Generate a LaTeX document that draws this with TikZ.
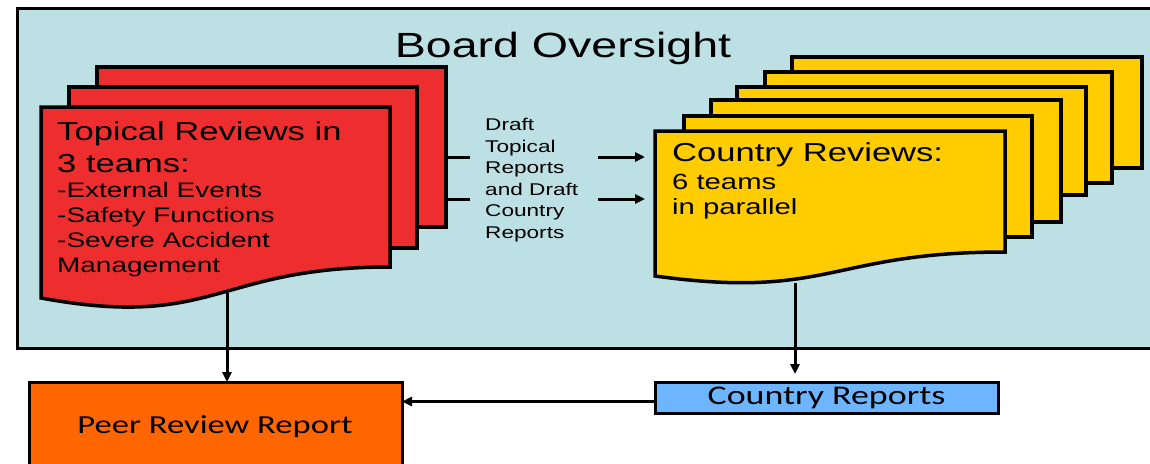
\documentclass[tikz,border=0pt]{standalone}
\usepackage{fontspec}
\setmainfont{Liberation Sans}[FakeStretch=1.33]
\newfontfamily\calfont{Carlito}[FakeStretch=1.33]
\usetikzlibrary{arrows.meta}
\definecolor{bgblue}{RGB}{189,224,228}
\definecolor{sheetred}{RGB}{238,46,46}
\definecolor{sheetyellow}{RGB}{255,204,0}
\definecolor{peerorange}{RGB}{255,102,0}
\definecolor{crblue}{RGB}{110,181,255}
\begin{document}
\begin{tikzpicture}[x=1pt,y=-1pt,
  sheet/.style={draw=black,line width=3.5pt,line join=miter,inner sep=0pt,outer sep=0pt,anchor=north west},
  redsheet/.style={sheet,fill=sheetred},
  ylwsheet/.style={sheet,fill=sheetyellow},
  conn/.style={draw=black,line width=3pt},
  arr/.style={conn,-{Triangle[length=10pt,width=9pt]}},
  big/.style={font=\fontsize{26}{32}\selectfont,align=left,inner sep=0pt,anchor=north west},
  small/.style={font=\fontsize{21}{25}\selectfont,align=left,inner sep=0pt,anchor=north west},
  box/.style={draw=black,line width=3pt,inner sep=0pt,outer sep=0pt}]
\clip (0,0) rectangle (1150,463);
% background
\draw[fill=bgblue,line width=3pt] (17,8) rectangle (1175,348);
\node[font=\fontsize{35}{40}\selectfont,anchor=base,inner sep=0pt] (title) at (563,57) {Board Oversight};
% red stack
\node[redsheet,minimum width=349pt,minimum height=160pt] (rback) at (97,67) {};
\node[redsheet,minimum width=348pt,minimum height=161pt] (rmid) at (69,87) {};
\draw[sheet,fill=sheetred] (41,107) -- (390,107) -- (390,267)
  .. controls (215,267) and (215,330) .. (41,298) -- cycle;
\node[big] (rtitle) at (57,121) {Topical Reviews in\\3 teams:};
\node[small] (rlist) at (57,182) {-External Events\\-Safety Functions\\-Severe Accident\\Management};
% yellow stack
\node[ylwsheet,minimum width=350pt,minimum height=111pt] (y6) at (792,57) {};
\node[ylwsheet,minimum width=347pt,minimum height=111pt] (y5) at (765,72) {};
\node[ylwsheet,minimum width=349pt,minimum height=108pt] (y4) at (737,87) {};
\node[ylwsheet,minimum width=350pt,minimum height=122pt] (y3) at (711,100) {};
\node[ylwsheet,minimum width=348pt,minimum height=121pt] (y2) at (684,116) {};
\draw[sheet,fill=sheetyellow] (655,131) -- (1005,131) -- (1005,252)
  .. controls (830,252) and (830,300) .. (655,276) -- cycle;
\node[big] (ytitle) at (672,142) {Country Reviews:};
\node[font=\fontsize{22}{25}\selectfont,align=left,inner sep=0pt,anchor=north west] (ylist) at (672,174) {6 teams\\in parallel};
% middle text and arrows
\node[font=\fontsize{17}{21.5}\selectfont,align=left,inner sep=0pt,anchor=north west] (draft) at (485,118)
  {Draft\\Topical\\Reports\\and Draft\\Country\\Reports};
\coordinate (l1a) at (446,157);
\coordinate (l1b) at (470,157);
\coordinate (l2a) at (446,199);
\coordinate (l2b) at (470,199);
\coordinate (a1a) at (598,157);
\coordinate (a1b) at (645,157);
\coordinate (a2a) at (598,199);
\coordinate (a2b) at (645,199);
\draw[conn] (l1a) -- (l1b);
\draw[conn] (l2a) -- (l2b);
\draw[arr] (a1a) -- (a1b);
\draw[arr] (a2a) -- (a2b);
% bottom boxes
\node[box,fill=peerorange,minimum width=373pt,minimum height=110pt,anchor=north west] (peer) at (29,382) {};
\node[font=\calfont\fontsize{26}{30}\selectfont,anchor=base,inner sep=0pt] (peertext) at (215,433) {Peer Review Report};
\node[box,fill=crblue,minimum width=343pt,minimum height=31pt,font=\calfont\fontsize{27}{30}\selectfont] (cr) at (826.5,397.5) {Country Reports};
% connectors
\coordinate (redbot) at (227,293);
\coordinate (ylwbot) at (795,283);
\draw[arr] (redbot) -- (redbot |- peer.north);
\draw[arr,shorten >=8pt] (ylwbot) -- (ylwbot |- cr.north);
\draw[arr] ([yshift=-4pt]cr.west) -- ([yshift=-4pt]cr.west -| peer.east);
\end{tikzpicture}
\end{document}
